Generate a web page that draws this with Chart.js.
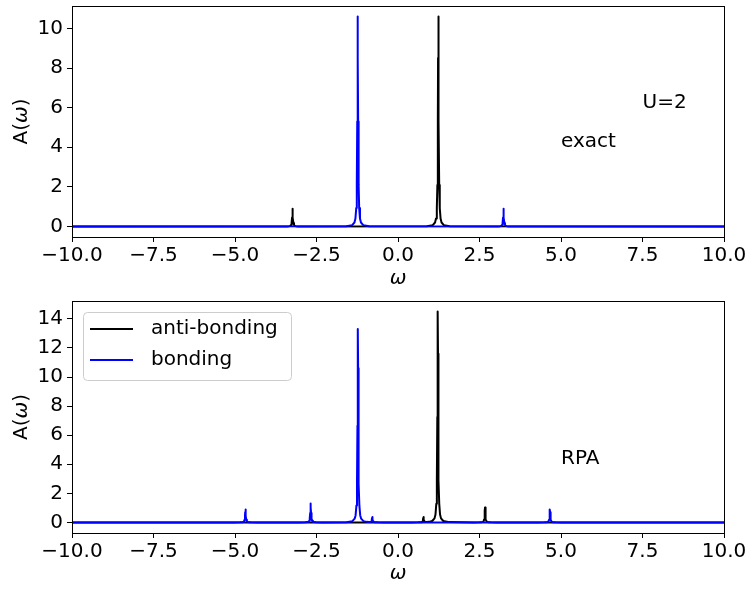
<!DOCTYPE html>
<html>
<head>
<meta charset="utf-8">
<script src="https://cdn.jsdelivr.net/npm/chart.js@4.4.1/dist/chart.umd.min.js"></script>
<style>
  html, body { margin: 0; padding: 0; background: #fff; }
  #wrap { position: relative; width: 750px; height: 590px; }
  canvas { position: absolute; left: 0; }
  #topChart { top: 0; }
  #bottomChart { top: 295px; }
</style>
</head>
<body>
<div id="wrap">
  <canvas id="topChart" width="750" height="295"></canvas>
  <canvas id="bottomChart" width="750" height="295"></canvas>
</div>
<script>
// omega axis ticks
const xTicks = [-10, -7.5, -5, -2.5, 0, 2.5, 5, 7.5, 10];
const yTicksTop = [0, 2, 4, 6, 8, 10];
const yTicksBottom = [0, 2, 4, 6, 8, 10, 12, 14];

// exact, anti-bonding (black): small peak near -3.24, big one near 1.24
const exactAntiW = [-10,
  -3.586, -3.406, -3.336, -3.306, -3.281, -3.264, -3.25, -3.243, -3.236, -3.229, -3.222, -3.208, -3.191, -3.166, -3.136, -3.066, -2.886,
  0.886, 1.066, 1.136, 1.166, 1.191, 1.208, 1.222, 1.229, 1.236, 1.243, 1.25, 1.264, 1.281, 1.306, 1.336, 1.406, 1.586,
  10];
const exactAntiA = [0,
  0.0015, 0.006, 0.017, 0.034, 0.08, 0.18, 0.45, 0.72, 0.9, 0.72, 0.45, 0.18, 0.08, 0.034, 0.017, 0.006, 0.0015,
  0.017, 0.07, 0.2, 0.4, 0.93, 2.1, 5.3, 8.5, 10.6, 8.5, 5.3, 2.1, 0.93, 0.4, 0.2, 0.07, 0.017,
  0];

// exact, bonding (blue): big peak near -1.24, small one near 3.24
const exactBondW = [-10,
  -1.586, -1.406, -1.336, -1.306, -1.281, -1.264, -1.25, -1.243, -1.236, -1.229, -1.222, -1.208, -1.191, -1.166, -1.136, -1.066, -0.886,
  2.886, 3.066, 3.136, 3.166, 3.191, 3.208, 3.222, 3.229, 3.236, 3.243, 3.25, 3.264, 3.281, 3.306, 3.336, 3.406, 3.586,
  10];
const exactBondA = [0,
  0.017, 0.07, 0.2, 0.4, 0.93, 2.1, 5.3, 8.5, 10.6, 8.5, 5.3, 2.1, 0.93, 0.4, 0.2, 0.07, 0.017,
  0.0015, 0.006, 0.017, 0.034, 0.08, 0.18, 0.45, 0.72, 0.9, 0.72, 0.45, 0.18, 0.08, 0.034, 0.017, 0.006, 0.0015,
  0];

// RPA, anti-bonding (black)
const rpaAntiW = [-10,
  0.43, 0.61, 0.68, 0.71, 0.735, 0.752, 0.766, 0.773, 0.78, 0.787, 0.794, 0.808, 0.825, 0.85, 0.88, 0.95,
  1.05, 1.12, 1.15, 1.175, 1.192, 1.206, 1.213, 1.22, 1.227, 1.234, 1.248, 1.265, 1.29, 1.32, 1.39, 1.57,
  2.32, 2.5, 2.57, 2.6, 2.625, 2.642, 2.656, 2.663, 2.67, 2.677, 2.684, 2.698, 2.715, 2.74, 2.77, 2.84, 3.02,
  10];
const rpaAntiA = [0,
  0.002, 0.006, 0.012, 0.02, 0.03, 0.07, 0.19, 0.3, 0.37, 0.3, 0.19, 0.07, 0.035, 0.03, 0.03, 0.04,
  0.1, 0.28, 0.55, 1.28, 2.9, 7.25, 11.6, 14.5, 11.6, 7.25, 2.9, 1.28, 0.55, 0.28, 0.1, 0.023,
  0.002, 0.007, 0.02, 0.04, 0.09, 0.21, 0.52, 0.82, 1.03, 0.82, 0.52, 0.21, 0.09, 0.04, 0.02, 0.007, 0.002,
  0];

// RPA, bonding (blue)
const rpaBondW = [-10,
  -5.03, -4.85, -4.78, -4.75, -4.725, -4.708, -4.694, -4.687, -4.68, -4.673, -4.666, -4.652, -4.635, -4.61, -4.58, -4.51, -4.33,
  -3.03, -2.85, -2.78, -2.75, -2.725, -2.708, -2.694, -2.687, -2.68, -2.673, -2.666, -2.652, -2.635, -2.61, -2.58, -2.51, -2.33,
  -1.58, -1.4, -1.33, -1.3, -1.275, -1.258, -1.244, -1.237, -1.23, -1.223, -1.216, -1.202, -1.185, -1.16, -1.13, -1.06,
  -0.96, -0.89, -0.86, -0.835, -0.818, -0.804, -0.797, -0.79, -0.783, -0.776, -0.762, -0.745, -0.72, -0.69, -0.62, -0.44,
  4.31, 4.49, 4.56, 4.59, 4.615, 4.632, 4.646, 4.653, 4.66, 4.667, 4.674, 4.688, 4.705, 4.73, 4.76, 4.83, 5.01,
  10];
const rpaBondA = [0,
  0.0015, 0.006, 0.017, 0.034, 0.08, 0.18, 0.45, 0.71, 0.89, 0.71, 0.45, 0.18, 0.08, 0.034, 0.017, 0.006, 0.0015,
  0.002, 0.009, 0.025, 0.05, 0.11, 0.26, 0.65, 1.04, 1.3, 1.04, 0.65, 0.26, 0.11, 0.05, 0.025, 0.009, 0.002,
  0.02, 0.09, 0.26, 0.5, 1.17, 2.66, 6.65, 10.6, 13.3, 10.6, 6.65, 2.66, 1.17, 0.5, 0.26, 0.09,
  0.04, 0.03, 0.034, 0.05, 0.07, 0.19, 0.3, 0.37, 0.3, 0.19, 0.07, 0.03, 0.02, 0.012, 0.006, 0.002,
  0.0015, 0.006, 0.017, 0.034, 0.08, 0.18, 0.45, 0.71, 0.89, 0.71, 0.45, 0.18, 0.08, 0.034, 0.017, 0.006, 0.0015,
  0];

const seriesNames = ["anti-bonding", "bonding"];
// y title: upright "A(", italic omega, upright ")"
const yTitleParts = [["A(", false], ["\u03c9", true], [")", false]];

const FONT = "'DejaVu Sans', sans-serif";

function pts(ws, as) {
  return ws.map((w, i) => ({ x: w, y: as[i] }));
}

function fmtTick(v) {
  const s = Math.abs(v).toFixed(1);
  return v < 0 ? "\u2212" + s : s;
}

// box round the plot, like matplotlib spines, plus the y title
const frame = {
  id: "frame",
  afterDraw(chart) {
    const { ctx, chartArea: a } = chart;
    ctx.save();
    ctx.strokeStyle = "#000";
    ctx.lineWidth = 1;
    ctx.strokeRect(Math.round(a.left) + 0.5, Math.round(a.top) + 0.5,
      Math.round(a.right - a.left), Math.round(a.bottom - a.top));

    ctx.translate(22, (a.top + a.bottom) / 2);
    ctx.rotate(-Math.PI / 2);
    ctx.fillStyle = "#000";
    ctx.textBaseline = "middle";
    ctx.textAlign = "left";
    const fonts = yTitleParts.map((p) => (p[1] ? "italic " : "") + "20px " + FONT);
    let total = 0;
    const widths = yTitleParts.map((p, i) => {
      ctx.font = fonts[i];
      const w = ctx.measureText(p[0]).width;
      total += w;
      return w;
    });
    let x = -total / 2;
    yTitleParts.forEach((p, i) => {
      ctx.font = fonts[i];
      ctx.fillText(p[0], x, 0);
      x += widths[i];
    });
    ctx.restore();
  },
};

// free text inside the axes, placed in data units
const notes = {
  id: "notes",
  afterDraw(chart, args, opts) {
    const { ctx, scales } = chart;
    ctx.save();
    ctx.fillStyle = "#000";
    ctx.font = "20px " + FONT;
    ctx.textAlign = "left";
    ctx.textBaseline = "alphabetic";
    (opts.items || []).forEach((n) => {
      ctx.fillText(n.text, scales.x.getPixelForValue(n.x), scales.y.getPixelForValue(n.y));
    });
    ctx.restore();
  },
};

// matplotlib-style legend box in upper left
const boxLegend = {
  id: "boxLegend",
  afterDraw(chart, args, opts) {
    if (!opts.show) return;
    const { ctx, chartArea: a } = chart;
    const x0 = a.left + 11, y0 = a.top + 11, w = 208, h = 68;
    ctx.save();
    ctx.fillStyle = "rgba(255,255,255,0.8)";
    ctx.strokeStyle = "#cccccc";
    ctx.lineWidth = 1;
    ctx.beginPath();
    ctx.roundRect(x0 + 0.5, y0 + 0.5, w, h, 4);
    ctx.fill();
    ctx.stroke();
    ctx.font = "20px " + FONT;
    ctx.textBaseline = "middle";
    ctx.textAlign = "left";
    chart.data.datasets.forEach((ds, i) => {
      const cy = y0 + 17 + i * 31;
      ctx.strokeStyle = ds.borderColor;
      ctx.lineWidth = 2;
      ctx.beginPath();
      ctx.moveTo(x0 + 7, cy);
      ctx.lineTo(x0 + 50, cy);
      ctx.stroke();
      ctx.fillStyle = "#000";
      ctx.fillText(ds.label, x0 + 68, cy);
    });
    ctx.restore();
  },
};

function makeChart(id, anti, bond, yMin, yMax, yTicks, xAxisH, items, legend) {
  return new Chart(document.getElementById(id), {
    type: "line",
    data: {
      datasets: [
        { label: seriesNames[0], data: anti, borderColor: "#000000", backgroundColor: "#000000", order: 1 },
        { label: seriesNames[1], data: bond, borderColor: "#0000ff", backgroundColor: "#0000ff", order: 0 },
      ],
    },
    options: {
      responsive: false,
      animation: false,
      devicePixelRatio: 1,
      layout: { padding: { left: 0, right: 26, top: 6, bottom: 0 } },
      elements: {
        line: { borderWidth: 2, tension: 0, fill: false, borderJoinStyle: "round", borderCapStyle: "round" },
        point: { radius: 0, hoverRadius: 0 },
      },
      scales: {
        x: {
          type: "linear",
          min: -10,
          max: 10,
          afterBuildTicks: (s) => { s.ticks = xTicks.map((v) => ({ value: v })); },
          afterFit: (s) => { s.height = xAxisH; s.paddingLeft = 0; s.paddingRight = 0; },
          ticks: { callback: fmtTick, color: "#000", font: { family: FONT, size: 20 }, padding: 2, maxRotation: 0, autoSkip: false },
          grid: { drawOnChartArea: false, drawTicks: true, tickLength: 5, tickColor: "#000", color: "#000" },
          border: { display: false },
          title: { display: true, text: "\u03c9", color: "#000", font: { family: FONT, size: 20, style: "italic" }, padding: { top: 0, bottom: 4 } },
        },
        y: {
          type: "linear",
          min: yMin,
          max: yMax,
          afterBuildTicks: (s) => { s.ticks = yTicks.map((v) => ({ value: v })); },
          afterFit: (s) => { s.width = 72; s.paddingTop = 0; s.paddingBottom = 0; },
          ticks: { color: "#000", font: { family: FONT, size: 20 }, padding: 4 },
          grid: { drawOnChartArea: false, drawTicks: true, tickLength: 5, tickColor: "#000", color: "#000" },
          border: { display: false },
          title: { display: false },
        },
      },
      plugins: {
        legend: { display: false },
        tooltip: { enabled: false },
        notes: { items: items },
        boxLegend: { show: legend },
      },
    },
    plugins: [frame, notes, boxLegend],
  });
}

makeChart("topChart", pts(exactAntiW, exactAntiA), pts(exactBondW, exactBondA),
  -0.53, 11.13, yTicksTop, 58,
  [{ x: 7.5, y: 6, text: "U=2" }, { x: 5, y: 4, text: "exact" }], false);

makeChart("bottomChart", pts(rpaAntiW, rpaAntiA), pts(rpaBondW, rpaBondA),
  -0.725, 15.225, yTicksBottom, 57,
  [{ x: 5, y: 4, text: "RPA" }], true);
</script>
</body>
</html>
